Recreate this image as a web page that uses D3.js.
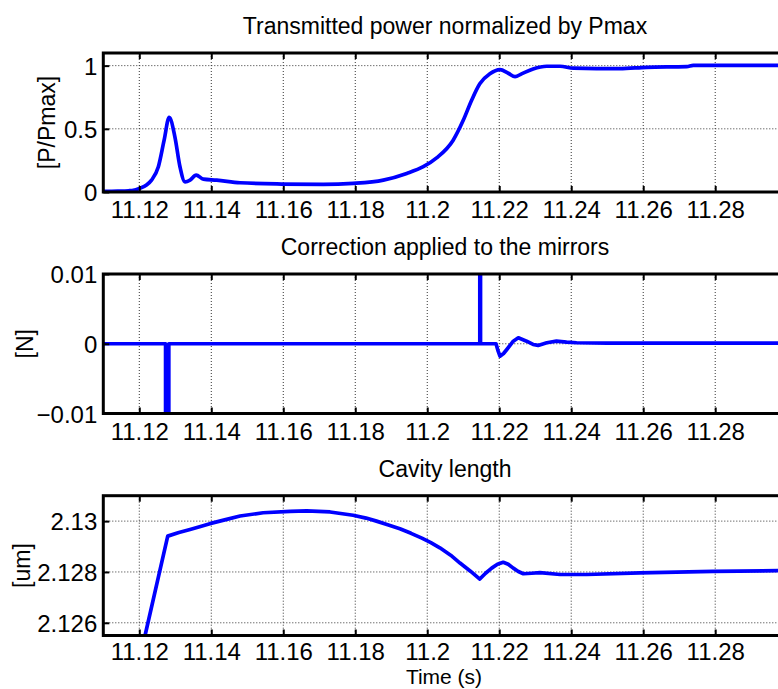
<!DOCTYPE html>
<html><head><meta charset="utf-8">
<script src="https://cdn.jsdelivr.net/npm/d3@7"></script>
<style>
html,body{margin:0;padding:0;background:#fff;overflow:hidden}
text{font-family:"Liberation Sans",Arial,Helvetica,sans-serif;fill:#000}
</style></head>
<body><svg id="c" width="778" height="689"></svg>
<script>
// ---------- data ----------
const xTicks = [11.12, 11.14, 11.16, 11.18, 11.2, 11.22, 11.24, 11.26, 11.28];
const xTickLabels = ["11.12","11.14","11.16","11.18","11.2","11.22","11.24","11.26","11.28"];

const titles = ["Transmitted power normalized by Pmax", "Correction applied to the mirrors", "Cavity length"];
const yLabels = ["[P/Pmax]", "[N]", "[um]"];
const xLabel = "Time (s)";

const p1Ticks = [0, 0.5, 1];
const p1TickLabels = ["0", "0.5", "1"];
const p1Time = [11.110,11.114,11.117,11.118,11.1202,11.1220,11.1234,11.1253,11.1269,11.1283,11.1299,11.1313,11.1327,11.1341,11.1358,11.1378,11.1415,11.148,11.1596,11.1711,11.1794,11.1878,11.1943,11.1989,11.2026,11.2072,11.2100,11.2123,11.2146,11.2174,11.2202,11.2225,11.2244,11.2262,11.2294,11.2332,11.2369,11.2406,11.2535,11.2609,11.2721,11.2739,11.2980];
const p1Value = [0.005,0.007,0.010,0.012,0.030,0.055,0.094,0.200,0.410,0.590,0.435,0.200,0.080,0.094,0.134,0.102,0.094,0.073,0.063,0.060,0.068,0.094,0.147,0.200,0.270,0.410,0.567,0.724,0.856,0.935,0.968,0.940,0.913,0.935,0.974,0.995,0.995,0.980,0.976,0.987,0.992,1.002,1.002];

const p2Ticks = [-0.01, 0, 0.01];
const p2TickLabels = ["\u22120.01", "0", "0.01"];
const p2Time = [11.110,11.1273,11.1273,11.1282,11.1282,11.2146,11.2146,11.2148,11.2148,11.2191,11.2196,11.2202,11.2212,11.2221,11.2239,11.2253,11.2276,11.2294,11.2308,11.2332,11.2359,11.2387,11.2415,11.2500,11.2980];
const p2Value = [0,0,-0.013,-0.013,0,0,0.013,0.013,0,0,-0.0009,-0.00178,-0.0014,-0.00082,0.00037,0.00086,0.00037,-0.0001,-0.00024,0.00014,0.00037,0.00023,0.00014,0.0001,0.0001];

const p3Ticks = [2.126, 2.128, 2.13];
const p3TickLabels = ["2.126", "2.128", "2.13"];
const p3Time = [11.1200,11.1216,11.1279,11.1310,11.1341,11.1370,11.1396,11.1440,11.1480,11.1544,11.1619,11.1665,11.1730,11.1794,11.1830,11.1859,11.1890,11.1924,11.1955,11.1985,11.2010,11.2035,11.2065,11.2091,11.2120,11.2146,11.2162,11.2179,11.2195,11.2211,11.2225,11.2239,11.2253,11.2267,11.2290,11.2313,11.2369,11.2443,11.2591,11.2794,11.2980];
const p3Value = [2.1245,2.1255,2.12941,2.12955,2.12967,2.12979,2.12990,2.13006,2.13020,2.13033,2.13038,2.13040,2.13036,2.13023,2.13012,2.13000,2.12986,2.12970,2.12952,2.12933,2.12915,2.12895,2.12866,2.12835,2.12803,2.12772,2.12795,2.12815,2.12830,2.12838,2.12830,2.12815,2.12802,2.12793,2.12795,2.12797,2.12790,2.12790,2.12796,2.12802,2.12805];

// ---------- layout ----------
const svg = d3.select("#c");
const tickFont = 24, titleFont = 23, labelFont = 23;
const x = d3.scaleLinear().domain([11.11, 11.298]).range([103.3, 780]);

const panels = [
  {top:53, bottom:192, domain:[0,1.1], ticks:p1Ticks, labels:p1TickLabels, t:p1Time, v:p1Value, ylx:55, curve:d3.curveMonotoneX, ty:26},
  {top:274, bottom:413.5, domain:[-0.01,0.01], ticks:p2Ticks, labels:p2TickLabels, t:p2Time, v:p2Value, ylx:33, curve:d3.curveLinear, ty:26},
  {top:495.7, bottom:635.5, domain:[2.1255,2.131], ticks:p3Ticks, labels:p3TickLabels, t:p3Time, v:p3Value, ylx:30, curve:d3.curveLinear, ty:24}
];

panels.forEach((p, i) => {
  const y = d3.scaleLinear().domain(p.domain).range([p.bottom, p.top]);
  const g = svg.append("g");
  const x0 = x.range()[0], x1 = x.range()[1];

  // grid
  g.selectAll(".gx").data(xTicks).enter().append("line")
    .attr("x1", d => x(d)).attr("x2", d => x(d))
    .attr("y1", p.top).attr("y2", p.bottom)
    .attr("stroke", "#333").attr("stroke-width", 1).attr("stroke-dasharray", "1,2");
  g.selectAll(".gy").data(p.ticks).enter().append("line")
    .attr("x1", x0).attr("x2", x1)
    .attr("y1", d => y(d)).attr("y2", d => y(d))
    .attr("stroke", "#333").attr("stroke-width", 1).attr("stroke-dasharray", "1,2");

  // clip
  svg.append("clipPath").attr("id", "clip" + i).append("rect")
    .attr("x", x0).attr("y", p.top).attr("width", x1 - x0).attr("height", p.bottom - p.top);

  const line = d3.line().curve(p.curve).x((d, k) => x(p.t[k])).y((d, k) => y(p.v[k]));
  g.append("path").datum(p.v).attr("d", line)
    .attr("fill", "none").attr("stroke", "#0000ff").attr("stroke-width", 3.7)
    .attr("stroke-linejoin", "round")
    .attr("clip-path", `url(#clip${i})`);

  // ticks (inward, bottom and top)
  const xb = d3.axisBottom(x).tickValues(xTicks).tickSizeInner(-6).tickSizeOuter(0).tickFormat((d, k) => xTickLabels[k]);
  const gxb = g.append("g").attr("transform", `translate(0,${p.bottom})`).call(xb);
  gxb.select(".domain").remove();
  gxb.selectAll("line").attr("stroke", "#000").attr("stroke-width", 2);
  gxb.selectAll("text").attr("font-size", tickFont).attr("dy", null).attr("y", p.ty)
    .attr("font-family", '"Liberation Sans",Arial,sans-serif').attr("fill", "#000");

  const xt = d3.axisTop(x).tickValues(xTicks).tickSizeInner(-6).tickSizeOuter(0).tickFormat("");
  const gxt = g.append("g").attr("transform", `translate(0,${p.top})`).call(xt);
  gxt.select(".domain").remove();
  gxt.selectAll("line").attr("stroke", "#000").attr("stroke-width", 2);

  const ya = d3.axisLeft(y).tickValues(p.ticks).tickSizeInner(-6).tickSizeOuter(0).tickFormat((d, k) => p.labels[k]);
  const gy = g.append("g").attr("transform", `translate(${x0},0)`).call(ya);
  gy.select(".domain").remove();
  gy.selectAll("line").attr("stroke", "#000").attr("stroke-width", 2);
  gy.selectAll("text").attr("font-size", tickFont).attr("x", -6).attr("dy", "0.36em")
    .attr("font-family", '"Liberation Sans",Arial,sans-serif').attr("fill", "#000");

  // box
  g.append("rect").attr("x", x0).attr("y", p.top).attr("width", x1 - x0).attr("height", p.bottom - p.top)
    .attr("fill", "none").attr("stroke", "#000").attr("stroke-width", 3);

  // title
  svg.append("text").attr("x", 445).attr("y", p.top - 19).attr("text-anchor", "middle")
    .attr("font-size", titleFont).text(titles[i]);

  // y label
  svg.append("text").attr("transform", `translate(${p.ylx},${(p.top + p.bottom) / 2}) rotate(-90)`)
    .attr("text-anchor", "middle").attr("font-size", labelFont).text(yLabels[i]);
});

svg.append("text").attr("x", 444).attr("y", 684).attr("text-anchor", "middle")
  .attr("font-size", 21).text(xLabel);
</script></body></html>
